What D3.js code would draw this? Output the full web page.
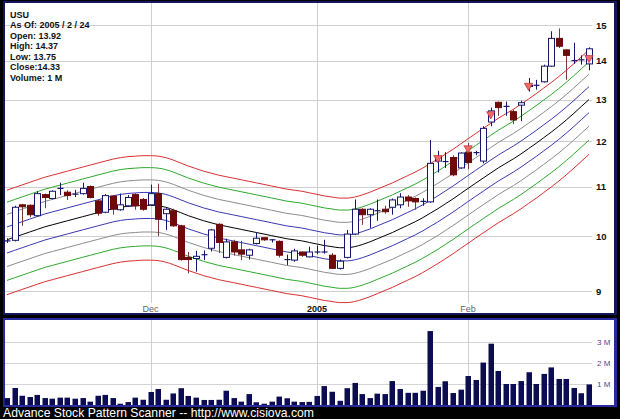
<!DOCTYPE html>
<html><head><meta charset="utf-8">
<script src="https://cdn.jsdelivr.net/npm/d3@7"></script>
<style>html,body{margin:0;padding:0;background:#000;}svg{display:block;}</style>
</head><body><svg id="c" width="620" height="419"></svg>
<script>
const dates=["2004-11-03","2004-11-04","2004-11-05","2004-11-08","2004-11-09","2004-11-10","2004-11-11","2004-11-12","2004-11-15","2004-11-16","2004-11-17","2004-11-18","2004-11-19","2004-11-22","2004-11-23","2004-11-24","2004-11-26","2004-11-29","2004-11-30",
"2004-12-01","2004-12-02","2004-12-03","2004-12-06","2004-12-07","2004-12-08","2004-12-09","2004-12-10","2004-12-13","2004-12-14","2004-12-15","2004-12-16","2004-12-17","2004-12-20","2004-12-21","2004-12-22","2004-12-23","2004-12-27","2004-12-28","2004-12-29","2004-12-30","2004-12-31",
"2005-01-03","2005-01-04","2005-01-05","2005-01-06","2005-01-07","2005-01-10","2005-01-11","2005-01-12","2005-01-13","2005-01-14","2005-01-18","2005-01-19","2005-01-20","2005-01-21","2005-01-24","2005-01-25","2005-01-26","2005-01-27","2005-01-28","2005-01-31",
"2005-02-01","2005-02-02","2005-02-03","2005-02-04","2005-02-07","2005-02-08","2005-02-09","2005-02-10","2005-02-11","2005-02-14","2005-02-15","2005-02-16","2005-02-17","2005-02-18","2005-02-22","2005-02-23","2005-02-24"];
const open=[9.90,9.92,10.62,10.61,10.40,10.83,10.75,10.95,10.88,10.83,10.85,11.00,10.70,10.47,10.80,10.52,10.60,10.83,10.73,10.62,10.85,10.44,10.50,10.20,9.60,9.58,9.64,9.77,10.23,9.60,9.89,9.74,9.64,9.86,9.97,9.92,9.90,9.55,9.55,9.70,9.61,9.69,9.69,9.64,9.40,9.60,10.04,10.53,10.42,10.49,10.53,10.57,10.62,10.78,10.75,10.68,10.68,11.55,11.53,11.63,11.40,11.75,11.73,11.55,12.45,12.93,12.82,12.70,12.86,13.33,13.35,13.45,13.86,14.62,14.30,14.00,14.01,13.92];
const high=[9.96,10.60,10.64,10.63,10.90,10.85,10.92,11.08,10.92,10.93,11.08,11.02,10.72,10.84,10.82,10.85,10.82,10.86,10.76,11.04,11.06,10.55,10.54,10.22,9.70,9.72,9.73,10.14,10.25,9.95,9.93,9.91,9.76,10.07,9.98,9.94,9.92,9.65,9.76,9.71,9.80,9.82,9.93,9.68,9.56,10.12,10.73,10.55,10.55,10.73,10.60,10.75,10.86,10.82,10.77,10.75,12.03,11.78,11.75,11.68,11.75,11.96,11.78,12.35,12.80,12.95,12.95,12.75,12.97,13.55,13.50,13.90,14.82,14.90,14.32,14.50,14.15,14.37];
const low=[9.87,9.90,10.20,10.37,10.38,10.55,10.73,10.82,10.72,10.78,10.83,10.75,10.40,10.45,10.42,10.50,10.58,10.52,10.50,10.60,10.00,10.12,10.18,9.54,9.31,9.34,9.55,9.71,9.68,9.58,9.63,9.55,9.56,9.84,9.91,9.88,9.60,9.46,9.52,9.61,9.60,9.66,9.67,9.39,9.38,9.58,10.02,10.22,10.16,10.30,10.44,10.42,10.55,10.58,10.52,10.60,10.66,11.30,11.40,11.22,11.38,11.37,11.68,11.50,12.35,12.60,12.60,12.40,12.47,13.20,13.25,13.43,13.84,14.35,13.50,13.92,13.90,13.75];
const close=[9.91,10.57,10.58,10.42,10.85,10.77,10.90,10.96,10.81,10.84,10.96,10.77,10.45,10.81,10.53,10.62,10.77,10.60,10.53,10.85,10.33,10.53,10.20,9.56,9.56,9.62,9.65,10.12,9.88,9.89,9.70,9.66,9.74,9.96,9.93,9.93,9.64,9.56,9.72,9.64,9.70,9.70,9.70,9.40,9.53,10.04,10.53,10.42,10.53,10.50,10.48,10.72,10.78,10.70,10.68,10.69,11.50,11.65,11.54,11.25,11.73,11.52,11.74,12.30,12.72,12.80,12.83,12.50,12.92,13.36,13.36,13.86,14.62,14.40,14.15,14.01,14.03,14.33];
const volume=[0.33,0.81,0.44,0.38,0.48,0.33,0.30,0.35,0.35,0.30,0.33,0.16,0.44,0.48,0.33,0.06,0.14,0.35,0.25,0.62,0.76,0.25,0.55,0.80,0.43,0.35,0.24,0.24,0.25,0.68,0.33,0.16,0.52,0.13,0.06,0.16,0.40,0.32,0.16,0.14,0.15,0.43,0.90,0.63,0.20,0.80,1.05,0.52,0.33,0.54,0.52,1.14,0.76,0.58,0.58,0.68,3.52,0.86,1.13,0.57,0.73,1.38,1.19,2.02,2.92,1.62,1.00,1.00,1.14,1.56,1.00,1.48,1.79,1.24,1.24,0.81,0.56,0.98];
const midline=[9.93,9.98,10.03,10.08,10.13,10.18,10.22,10.26,10.30,10.34,10.38,10.42,10.46,10.50,10.54,10.57,10.59,10.60,10.61,10.61,10.60,10.57,10.52,10.46,10.40,10.35,10.30,10.26,10.22,10.19,10.16,10.13,10.10,10.07,10.04,10.01,9.98,9.95,9.93,9.91,9.88,9.85,9.82,9.80,9.78,9.78,9.80,9.84,9.89,9.95,10.01,10.07,10.14,10.21,10.28,10.36,10.45,10.54,10.64,10.74,10.85,10.96,11.07,11.18,11.29,11.40,11.50,11.60,11.71,11.83,11.95,12.08,12.21,12.35,12.50,12.66,12.83,13.00];
const envelopePct=[10,7.5,5,2.5,0,-2.5,-5,-7.5,-10];
const envelopeColors=["#d83030","#2ea82e","#8c8c8c","#3838b0","#000000","#3838b0","#8c8c8c","#2ea82e","#d83030"];
const signalDates=["2005-01-26","2005-02-01","2005-02-04","2005-02-11","2005-02-24"];
const signalPrices=[11.62,11.84,12.64,13.35,14.08];
const priceTicks=[9,10,11,12,13,14,15];
const volumeTicks=[1,2,3];
const volumeTickLabels=["1 M","2 M","3 M"];
const monthTicks=["2004-12-01","2005-01-03","2005-02-01"];
const monthLabels=["Dec","2005","Feb"];
const legendLines=["USU","As Of: 2005 / 2 / 24","Open: 13.92","High: 14.37","Low: 13.75","Close:14.33","Volume: 1 M"];

const svg=d3.select("#c");
svg.append("rect").attr("width",620).attr("height",419).attr("fill","#000");
svg.append("rect").attr("x",3).attr("y",1).attr("width",614).attr("height",314).attr("fill","#15155a");
svg.append("rect").attr("x",5).attr("y",3).attr("width",609).attr("height",310).attr("fill","#fff");
svg.append("rect").attr("x",3).attr("y",318).attr("width",614).attr("height",89).attr("fill","#2a2aa0");
svg.append("rect").attr("x",5).attr("y",320).attr("width",609).attr("height",85).attr("fill","#fff");

const x=d3.scalePoint().domain(dates).range([7,589]);
const y=d3.scaleLog().domain([9,15]).range([291,25]);
const vy=d3.scaleLinear().domain([0,3]).range([405,342]);

const F="'Liberation Sans',Arial,sans-serif";
const gGrid=svg.append("g");
gGrid.selectAll("line.h").data(priceTicks).join("line")
  .attr("x1",5).attr("x2",592).attr("y1",d=>Math.round(y(d))+0.5).attr("y2",d=>Math.round(y(d))+0.5)
  .attr("stroke","#cfcfcf").attr("stroke-width",1);
gGrid.selectAll("line.v").data(monthTicks).join("line")
  .attr("x1",d=>Math.round(x(d))+0.5).attr("x2",d=>Math.round(x(d))+0.5).attr("y1",3).attr("y2",303)
  .attr("stroke","#cfcfcf");
const ax=svg.append("g").attr("transform","translate(594,0)")
  .call(d3.axisRight(y).tickValues(priceTicks).tickSize(0).tickPadding(2).tickFormat(d3.format("d")));
ax.select(".domain").remove();
ax.selectAll("text").attr("font-family",F).attr("font-size",9.5).attr("font-weight","bold").attr("fill","#111");
svg.append("g").selectAll("text").data(monthTicks).join("text")
  .attr("x",d=>x(d)).attr("y",312).attr("text-anchor","middle")
  .attr("font-family",F).attr("font-size",9)
  .attr("font-weight",(d,i)=>monthLabels[i]==="2005"?"bold":"normal")
  .attr("fill",(d,i)=>monthLabels[i]==="2005"?"#111":"#666")
  .text((d,i)=>monthLabels[i]);

svg.append("g").selectAll("text").data(legendLines).join("text")
  .attr("x",10).attr("y",(d,i)=>17.5+i*10.5)
  .attr("font-family",F).attr("font-size",9).attr("font-weight","bold").attr("fill","#111")
  .text(d=>d);

const line=d3.line().x(d=>x(d.date)).y(d=>y(d.v)).curve(d3.curveMonotoneX);
envelopePct.forEach((p,k)=>{
  const pts=dates.map((dt,i)=>({date:dt,v:midline[i]*(1+p/100)}));
  svg.append("path").datum(pts).attr("d",line).attr("fill","none")
    .attr("stroke",envelopeColors[k]).attr("stroke-width",1);
});

const upC="#16166e", dnC="#6e0a0a", dnW="#7a3a3a";
const gC=svg.append("g");
dates.forEach((dt,i)=>{
  const cx=Math.round(x(dt))+0.5;
  const o=open[i],c=close[i],h=high[i],l=low[i];
  const up=c>=o;
  const doji=Math.abs(c-o)<0.02;
  gC.append("line").attr("x1",cx).attr("x2",cx).attr("y1",y(h)).attr("y2",y(l))
    .attr("stroke",doji||up?upC:dnW).attr("stroke-width",1);
  if(doji){
    gC.append("line").attr("x1",cx-3).attr("x2",cx+3).attr("y1",y(c)).attr("y2",y(c))
      .attr("stroke",upC).attr("stroke-width",1.2);
  } else {
    const top=y(Math.max(o,c)), bot=y(Math.min(o,c));
    gC.append("rect").attr("x",cx-3).attr("y",top).attr("width",6).attr("height",Math.max(1,bot-top))
      .attr("fill",up?"#fff":dnC).attr("stroke",up?upC:dnC).attr("stroke-width",1);
  }
});
svg.append("g").selectAll("path").data(signalDates).join("path")
  .attr("d",d3.symbol(d3.symbolTriangle).size(30))
  .attr("transform",(d,i)=>`translate(${x(d)},${y(signalPrices[i])}) rotate(180)`)
  .attr("fill","#f26a6a").attr("stroke","#b83030").attr("stroke-width",0.7);

const gV=svg.append("g");
gV.selectAll("line.h").data(volumeTicks).join("line")
  .attr("x1",5).attr("x2",592).attr("y1",d=>Math.round(vy(d))+0.5).attr("y2",d=>Math.round(vy(d))+0.5)
  .attr("stroke","#d4d4d4");
gV.selectAll("line.v").data(monthTicks).join("line")
  .attr("x1",d=>Math.round(x(d))+0.5).attr("x2",d=>Math.round(x(d))+0.5).attr("y1",320).attr("y2",405)
  .attr("stroke","#cfcfcf");
gV.selectAll("rect").data(dates).join("rect")
  .attr("x",d=>Math.round(x(d))-2.5).attr("width",5.5)
  .attr("y",(d,i)=>vy(volume[i])).attr("height",(d,i)=>vy(0)-vy(volume[i]))
  .attr("fill","#0c0c52");
gV.selectAll("text").data(volumeTicks).join("text")
  .attr("x",597).attr("y",d=>vy(d)+3).attr("font-family",F).attr("font-size",8)
  .attr("fill","#4a4a88").text((d,i)=>volumeTickLabels[i]);

svg.append("text").attr("x",3).attr("y",417).attr("font-family",F).attr("font-size",12.2)
  .attr("fill","#fff").text("Advance Stock Pattern Scanner -- http://www.cisiova.com");
</script></body></html>
